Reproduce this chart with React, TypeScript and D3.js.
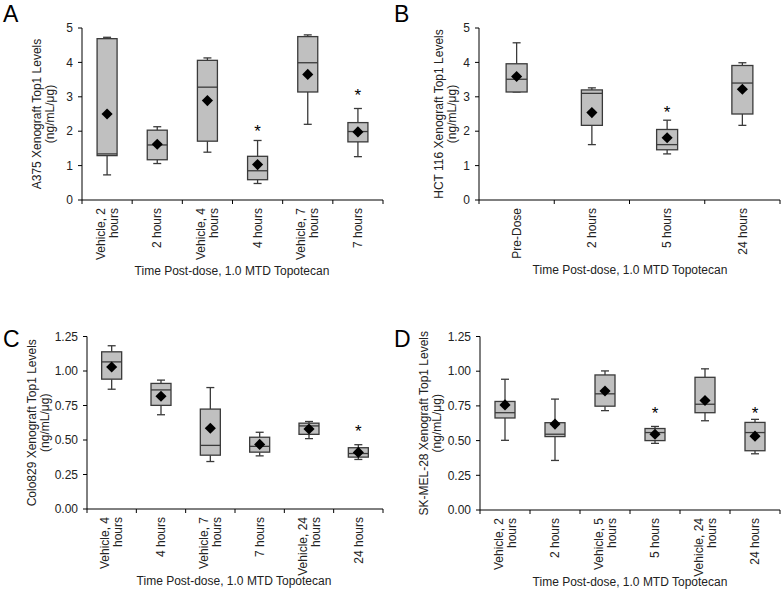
import React from "react";
import * as d3 from "d3";

// ---------- Panel A data ----------
const aCategories = ["Vehicle, 2\nhours", "2 hours", "Vehicle, 4\nhours", "4 hours", "Vehicle, 7\nhours", "7 hours"];
const aWhiskerLow = [0.73, 1.06, 1.39, 0.48, 2.2, 1.26];
const aQ1 = [1.29, 1.17, 1.71, 0.59, 3.14, 1.69];
const aMedian = [1.34, 1.6, 3.28, 0.85, 3.99, 1.99];
const aQ3 = [4.69, 2.03, 4.06, 1.27, 4.75, 2.25];
const aWhiskerHigh = [4.73, 2.13, 4.13, 1.73, 4.8, 2.66];
const aMean = [2.5, 1.62, 2.89, 1.03, 3.65, 1.98];
const aStar = [null, null, null, 2.1, null, 3.13];
const aYTicks = [0, 1, 2, 3, 4, 5];

// ---------- Panel B data ----------
const bCategories = ["Pre-Dose", "2 hours", "5 hours", "24 hours"];
const bWhiskerLow = [3.14, 1.61, 1.34, 2.17];
const bQ1 = [3.14, 2.17, 1.46, 2.5];
const bMedian = [3.51, 3.1, 1.61, 3.4];
const bQ3 = [3.96, 3.2, 2.05, 3.91];
const bWhiskerHigh = [4.57, 3.26, 2.32, 3.99];
const bMean = [3.59, 2.54, 1.81, 3.22];
const bStar = [null, null, 2.64, null];
const bYTicks = [0, 1, 2, 3, 4, 5];

// ---------- Panel C data ----------
const cCategories = ["Vehicle, 4\nhours", "4 hours", "Vehicle, 7\nhours", "7 hours", "Vehicle, 24\nhours", "24 hours"];
const cWhiskerLow = [0.868, 0.683, 0.344, 0.385, 0.51, 0.359];
const cQ1 = [0.941, 0.751, 0.39, 0.412, 0.541, 0.376];
const cMedian = [1.066, 0.863, 0.461, 0.454, 0.602, 0.402];
const cQ3 = [1.139, 0.91, 0.724, 0.52, 0.622, 0.444];
const cWhiskerHigh = [1.183, 0.934, 0.88, 0.556, 0.634, 0.466];
const cMean = [1.029, 0.817, 0.585, 0.468, 0.58, 0.41];
const cStar = [null, null, null, null, null, 0.59];
const cYTicks = [0, 0.25, 0.5, 0.75, 1.0, 1.25];

// ---------- Panel D data ----------
const dCategories = ["Vehicle, 2\nhours", "2 hours", "Vehicle, 5\nhours", "5 hours", "Vehicle, 24\nhours", "24 hours"];
const dWhiskerLow = [0.502, 0.357, 0.716, 0.48, 0.643, 0.405];
const dQ1 = [0.663, 0.529, 0.748, 0.5, 0.701, 0.427];
const dMedian = [0.701, 0.546, 0.837, 0.558, 0.762, 0.558];
const dQ3 = [0.782, 0.629, 0.973, 0.587, 0.956, 0.631];
const dWhiskerHigh = [0.942, 0.799, 1.002, 0.602, 1.017, 0.653];
const dMean = [0.757, 0.619, 0.857, 0.546, 0.789, 0.532];
const dStar = [null, null, null, 0.72, null, 0.72];
const dYTicks = [0, 0.25, 0.5, 0.75, 1.0, 1.25];

const xTitle = "Time Post-dose, 1.0 MTD Topotecan";

const FONT = "'Liberation Sans', Arial, sans-serif";
const LETTER_FONT = "'Liberation Sans', Arial, sans-serif";

type PanelCfg = {
  letter: string;
  letterX: number;
  letterY: number;
  yTitle: string;
  yTitleX: number;
  categories: string[];
  low: number[];
  q1: number[];
  med: number[];
  q3: number[];
  high: number[];
  mean: number[];
  star: (number | null)[];
  yTicks: number[];
  yMax: number;
  fmt: (v: number) => string;
  left: number;
  right: number;
  top: number;
  bottom: number;
  boxW: number;
  xTitleX: number;
  xTitleY: number;
};

const panels: PanelCfg[] = [
  {
    letter: "A", letterX: 3, letterY: 22, yTitle: "A375 Xenograft Top1 Levels", yTitleX: 37,
    categories: aCategories, low: aWhiskerLow, q1: aQ1, med: aMedian, q3: aQ3, high: aWhiskerHigh, mean: aMean, star: aStar,
    yTicks: aYTicks, yMax: 5, fmt: d3.format("d"),
    left: 82, right: 383, top: 28, bottom: 200, boxW: 20, xTitleX: 232, xTitleY: 275,
  },
  {
    letter: "B", letterX: 394, letterY: 22, yTitle: "HCT 116 Xenograft Top1 Levels", yTitleX: 439,
    categories: bCategories, low: bWhiskerLow, q1: bQ1, med: bMedian, q3: bQ3, high: bWhiskerHigh, mean: bMean, star: bStar,
    yTicks: bYTicks, yMax: 5, fmt: d3.format("d"),
    left: 479, right: 780, top: 28, bottom: 200, boxW: 21, xTitleX: 630, xTitleY: 274,
  },
  {
    letter: "C", letterX: 3, letterY: 347, yTitle: "Colo829 Xenograft Top1 Levels", yTitleX: 32,
    categories: cCategories, low: cWhiskerLow, q1: cQ1, med: cMedian, q3: cQ3, high: cWhiskerHigh, mean: cMean, star: cStar,
    yTicks: cYTicks, yMax: 1.25, fmt: d3.format(".2f"),
    left: 87, right: 383, top: 336.5, bottom: 509, boxW: 20, xTitleX: 234, xTitleY: 585,
  },
  {
    letter: "D", letterX: 394, letterY: 347, yTitle: "SK-MEL-28 Xenograft Top1 Levels", yTitleX: 424,
    categories: dCategories, low: dWhiskerLow, q1: dQ1, med: dMedian, q3: dQ3, high: dWhiskerHigh, mean: dMean, star: dStar,
    yTicks: dYTicks, yMax: 1.25, fmt: d3.format(".2f"),
    left: 480, right: 780, top: 336.5, bottom: 510, boxW: 20, xTitleX: 630, xTitleY: 586,
  },
];

const diamond = d3.symbol().type(d3.symbolSquare).size(62)();

function Panel({ p }: { p: PanelCfg }) {
  const x = d3.scaleBand<number>().domain(p.categories.map((_, i) => i)).range([p.left, p.right]).paddingInner(0).paddingOuter(0);
  const y = d3.scaleLinear().domain([0, p.yMax]).range([p.bottom, p.top]);
  const bw = x.bandwidth();
  const boundaries = p.categories.map((_, i) => x(i)!).concat([p.right]);
  const cy = (p.top + p.bottom) / 2;
  const stroke = "#3a3a3a";
  const lh = 13;
  return (
    <g>
      <text x={p.letterX} y={p.letterY} fontFamily={LETTER_FONT} fontSize={23} fill="#000">{p.letter}</text>
      {/* y title */}
      <text transform={`translate(${p.yTitleX},${cy}) rotate(-90)`} textAnchor="middle" dy="0.35em" fontFamily={FONT} fontSize={12} fill="#222">{p.yTitle}</text>
      <text transform={`translate(${p.yTitleX + 13},${cy}) rotate(-90)`} textAnchor="middle" dy="0.35em" fontFamily={FONT} fontSize={12} fill="#222">(ng/mL/μg)</text>
      {/* y axis */}
      <line x1={p.left} x2={p.left} y1={y(p.yMax)} y2={p.bottom} stroke="#000" strokeWidth={1} />
      {p.yTicks.map((t) => (
        <g key={t}>
          <line x1={p.left - 4} x2={p.left} y1={y(t)} y2={y(t)} stroke="#000" />
          <text x={p.left - 9} y={y(t)} dy="0.35em" textAnchor="end" fontFamily={FONT} fontSize={12} fill="#222">{p.fmt(t)}</text>
        </g>
      ))}
      {/* x axis */}
      <line x1={p.left} x2={p.right} y1={p.bottom} y2={p.bottom} stroke="#000" strokeWidth={1} />
      {boundaries.map((b, i) => (
        <line key={i} x1={b} x2={b} y1={p.bottom} y2={p.bottom + 4} stroke="#000" />
      ))}
      {p.categories.map((c, i) => {
        const lines = c.split("\n");
        const cx = x(i)! + bw / 2;
        return (
          <text key={i} transform={`translate(${cx},${p.bottom + 8}) rotate(-90)`} textAnchor="end" fontFamily={FONT} fontSize={12} fill="#222">
            {lines.map((l, j) => (
              <tspan key={j} x={0} y={(j - (lines.length - 1) / 2) * lh} dy="0.35em">{l}</tspan>
            ))}
          </text>
        );
      })}
      <text x={p.xTitleX} y={p.xTitleY} textAnchor="middle" fontFamily={FONT} fontSize={12} fill="#222">{xTitle}</text>
      {/* boxes */}
      {p.categories.map((_, i) => {
        const cx = x(i)! + bw / 2;
        const hw = p.boxW / 2;
        return (
          <g key={i}>
            <line x1={cx} x2={cx} y1={y(p.high[i])} y2={y(p.q3[i])} stroke={stroke} strokeWidth={1.3} />
            <line x1={cx} x2={cx} y1={y(p.q1[i])} y2={y(p.low[i])} stroke={stroke} strokeWidth={1.3} />
            <line x1={cx - 4} x2={cx + 4} y1={y(p.high[i])} y2={y(p.high[i])} stroke={stroke} strokeWidth={1.3} />
            <line x1={cx - 4} x2={cx + 4} y1={y(p.low[i])} y2={y(p.low[i])} stroke={stroke} strokeWidth={1.3} />
            <rect x={cx - hw} y={y(p.q3[i])} width={p.boxW} height={y(p.q1[i]) - y(p.q3[i])} fill="#c0c0c0" stroke={stroke} strokeWidth={1.3} />
            <line x1={cx - hw} x2={cx + hw} y1={y(p.med[i])} y2={y(p.med[i])} stroke={stroke} strokeWidth={1.3} />
            <path d={diamond!} transform={`translate(${cx},${y(p.mean[i])}) rotate(45)`} fill="#000" />
            {p.star[i] != null && (
              <text x={cx} y={y(p.star[i] as number) + 9} textAnchor="middle" fontFamily={FONT} fontSize={17} fill="#000">*</text>
            )}
          </g>
        );
      })}
    </g>
  );
}

export default function App() {
  return (
    <svg width={784} height={592} style={{ position: "absolute", left: 0, top: 0, background: "#fff" }}>
      <rect width={784} height={592} fill="#fff" />
      {panels.map((p) => (
        <Panel key={p.letter} p={p} />
      ))}
    </svg>
  );
}
